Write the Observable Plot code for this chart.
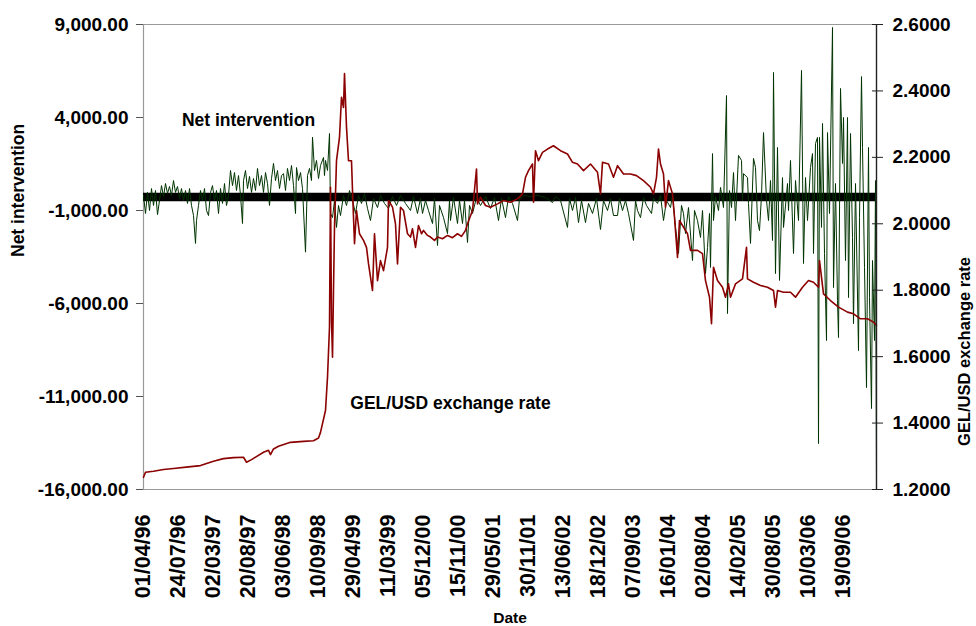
<!DOCTYPE html>
<html><head><meta charset="utf-8">
<script src="https://cdn.jsdelivr.net/npm/d3@7"></script>
<script src="https://cdn.jsdelivr.net/npm/@observablehq/plot@0.6"></script>
<style>body{margin:0;background:#fff}</style>
</head><body><div id="chart"></div>
<script>
const dateLabels = ["01/04/96","24/07/96","02/03/97","20/08/97","03/06/98","10/09/98","29/04/99","11/03/99","05/12/00","15/11/00","29/05/01","30/11/01","13/06/02","18/12/02","07/09/03","16/01/04","02/08/04","14/02/05","30/08/05","10/03/06","19/09/06"];
const labelStep = 35;   // observations between date labels
const nObs = 733;       // observation count on the category axis

const leftTicks = [-16000,-11000,-6000,-1000,4000,9000];
const rightTicks = [1.2,1.4,1.6,1.8,2.0,2.2,2.4,2.6];
const leftDomain = [-16000, 9000];
const rightDomain = [1.2, 2.6];

// [observation, net intervention]
const netIntervention = [[0,-190],[2,-1160],[4,-30],[6,-1000],[8,180],[10,-730],[12,75],[14,-1220],[16,-460],[18,340],[20,-250],[22,450],[24,-90],[26,290],[28,-190],[30,610],[32,-30],[34,290],[36,-350],[38,180],[40,-460],[42,75],[44,-620],[46,180],[48,-730],[50,-1270],[52,-2770],[53,-1540],[55,-730],[57,75],[59,-460],[61,180],[63,-1000],[65,-1270],[67,-30],[69,340],[71,-460],[73,75],[75,-1160],[77,180],[79,-620],[81,450],[83,-730],[85,-190],[87,1150],[89,340],[91,1040],[93,75],[95,880],[97,-190],[99,-1700],[100,610],[102,1150],[104,180],[106,830],[108,-30],[110,720],[112,75],[114,1260],[116,340],[118,880],[120,-30],[122,1040],[124,450],[126,-730],[128,720],[130,1530],[132,610],[134,1150],[136,180],[138,880],[140,980],[142,75],[144,1260],[146,610],[148,1420],[150,340],[152,-1160],[153,1310],[155,610],[157,1040],[159,180],[162,-3240],[164,880],[166,1260],[168,610],[169,2940],[171,1150],[173,1690],[175,720],[177,1420],[180,1850],[181,880],[182,1690],[184,1150],[186,3140],[187,-1160],[189,-1380],[191,-460],[193,-1910],[195,-730],[197,-1270],[200,-190],[203,-730],[206,75],[209,-460],[212,-1160],[215,-190],[218,-620],[221,-90],[224,-890],[227,-1540],[230,-350],[234,-840],[237,-190],[241,-620],[245,-890],[249,-250],[253,-730],[257,-190],[262,-620],[267,-1000],[270,-250],[274,-1160],[277,-350],[279,-1160],[282,-460],[285,-1000],[289,-1700],[291,-350],[294,-2880],[296,-730],[300,-1380],[304,-2240],[306,-460],[307,-1540],[310,-300],[314,-1700],[316,-460],[319,-1700],[321,-460],[324,-2720],[326,-730],[329,-1160],[333,-300],[337,-730],[342,-250],[347,-890],[351,-300],[355,-1540],[358,-350],[362,-1380],[365,-250],[369,-620],[374,-1540],[376,-350],[381,-190],[387,-250],[394,-190],[402,-300],[409,-570],[412,-250],[417,-460],[424,-1910],[426,-350],[429,-1000],[432,-300],[435,-1650],[438,-460],[442,-1650],[445,-620],[449,-1160],[453,-350],[457,-2020],[460,-460],[464,-1000],[467,-350],[470,-1270],[474,-1270],[476,-350],[479,-1000],[482,-460],[485,-1160],[490,-2610],[492,-460],[494,-1000],[497,-1380],[500,-300],[503,-730],[508,-1160],[510,-350],[514,-620],[517,-190],[520,-1540],[523,-460],[527,-840],[529,-190],[532,-1910],[535,-3310],[538,-730],[540,-1160],[542,-2240],[545,-840],[549,-3690],[551,-1000],[554,-1540],[557,-2450],[559,-1000],[562,-4390],[564,-2990],[566,-1160],[567,-4060],[569,2060],[570,-1540],[572,-250],[575,-1000],[577,240],[580,-840],[583,5180],[584,-6540],[586,75],[588,-840],[590,1040],[592,-1540],[595,1960],[598,1690],[599,-460],[600,980],[604,770],[605,-620],[607,-2770],[610,1800],[612,1310],[614,-1540],[616,-2080],[618,-190],[620,3190],[623,-460],[625,-1540],[627,610],[629,-2610],[630,6420],[632,-4390],[634,2390],[636,-4760],[639,770],[640,-1910],[644,450],[645,-1000],[647,1690],[650,-3310],[652,610],[655,-1540],[658,6530],[660,-3850],[662,770],[664,-1540],[667,1310],[669,2060],[670,-3310],[672,2600],[674,2930],[675,-13530],[676,2930],[678,-1910],[679,3680],[681,-3310],[683,-7990],[684,3190],[686,-1160],[689,8840],[690,-5140],[692,450],[694,-5840],[695,-7830],[697,5560],[699,1530],[700,4000],[702,-3690],[704,4000],[705,-5680],[707,3140],[709,-2450],[710,-7080],[712,450],[715,-8530],[716,-1380],[718,6200],[719,2390],[721,-4060],[723,-10520],[725,2390],[726,-5680],[728,-11650],[729,-3690],[731,-7990],[732,610],[733,-16000]];

// [observation, GEL/USD rate]
const exchangeRate = [[0,1.237],[2,1.252],[10,1.255],[20,1.26],[30,1.263],[45,1.268],[57,1.272],[70,1.285],[80,1.293],[90,1.296],[100,1.297],[103,1.282],[108,1.29],[120,1.312],[125,1.318],[127,1.305],[130,1.322],[135,1.33],[147,1.342],[160,1.345],[170,1.347],[175,1.355],[177,1.372],[182,1.438],[184,1.538],[186,1.689],[187,2.11],[188,1.709],[189,1.598],[190,1.8],[191,1.99],[193,2.19],[196,2.261],[198,2.381],[200,2.35],[201,2.452],[203,2.291],[205,2.19],[208,2.19],[209,2.1],[211,1.94],[213,2.04],[216,1.97],[220,1.95],[223,1.929],[225,1.88],[229,1.799],[231,1.97],[234,1.829],[237,1.889],[240,1.859],[244,1.929],[245,2.07],[249,2.05],[252,2.0],[254,1.879],[257,2.05],[260,2.04],[264,1.97],[267,1.96],[269,1.985],[272,1.929],[275,1.995],[278,1.97],[280,1.98],[284,1.965],[287,1.96],[291,1.95],[294,1.96],[299,1.955],[304,1.965],[309,1.958],[314,1.97],[318,1.962],[322,1.98],[324,2.0],[329,2.04],[333,2.165],[334,2.06],[337,2.08],[342,2.055],[347,2.05],[354,2.06],[360,2.07],[367,2.065],[374,2.075],[379,2.09],[382,2.14],[385,2.16],[389,2.18],[390,2.065],[392,2.22],[395,2.19],[399,2.215],[404,2.225],[410,2.235],[417,2.22],[424,2.21],[429,2.185],[434,2.18],[440,2.16],[447,2.18],[454,2.155],[457,2.09],[459,2.185],[465,2.18],[470,2.14],[474,2.175],[480,2.15],[487,2.15],[493,2.145],[500,2.13],[507,2.11],[510,2.09],[513,2.14],[515,2.225],[517,2.18],[520,2.15],[522,2.05],[525,2.13],[529,2.09],[531,2.02],[534,1.899],[536,2.01],[540,1.99],[544,1.97],[547,1.92],[554,1.92],[559,1.91],[562,1.829],[566,1.779],[568,1.699],[570,1.869],[574,1.829],[579,1.809],[582,1.779],[585,1.819],[587,1.779],[592,1.819],[599,1.834],[603,1.929],[604,1.834],[610,1.824],[617,1.814],[624,1.809],[630,1.799],[632,1.749],[634,1.799],[640,1.794],[647,1.794],[652,1.779],[659,1.809],[665,1.829],[670,1.824],[675,1.809],[676,1.889],[680,1.789],[687,1.769],[695,1.749],[704,1.734],[710,1.729],[717,1.714],[724,1.714],[730,1.704],[733,1.694]];

const toLeft = r => leftDomain[0] + (r - rightDomain[0]) / (rightDomain[1] - rightDomain[0]) * (leftDomain[1] - leftDomain[0]);
const fromLeft = v => rightDomain[0] + (v - leftDomain[0]) / (leftDomain[1] - leftDomain[0]) * (rightDomain[1] - rightDomain[0]);
const fmtLeft = d3.formatLocale({decimal: ".", thousands: ",", grouping: [3], currency: ["", ""], minus: "-"}).format(",.2f");
const dateTicks = dateLabels.map((d, i) => i * labelStep);

const chart = Plot.plot({
  width: 976, height: 626,
  marginLeft: 143, marginRight: 100, marginTop: 24, marginBottom: 137,
  x: {domain: [0, nObs], axis: null},
  y: {domain: leftDomain, axis: null},
  style: {fontFamily: "'Liberation Sans', Arial, sans-serif", fontWeight: "bold", color: "#000", background: "#fff"},
  marks: [
    Plot.ruleY([leftDomain[1]], {stroke: "#999", strokeWidth: 1.2}),
    Plot.ruleY([leftDomain[0]], {stroke: "#999", strokeWidth: 1.2}),
    Plot.ruleX([0], {stroke: "#999", strokeWidth: 1.2}),
    Plot.ruleY([0], {stroke: "#000", strokeWidth: 8.5, dy: 5}),
    Plot.line(netIntervention, {x: d => d[0], y: d => d[1], stroke: "#003300", strokeWidth: 1}),
    Plot.line(exchangeRate, {x: d => d[0], y: d => toLeft(d[1]), stroke: "#8b0000", strokeWidth: 1.6}),
    Plot.ruleX([nObs], {stroke: "#222", strokeWidth: 1.4}),
    Plot.axisY(leftTicks, {anchor: "left", tickSize: 7, tickPadding: 8, tickFormat: fmtLeft, fontSize: 19, label: null, stroke: "#555"}),
    Plot.axisY(rightTicks.map(toLeft), {anchor: "right", tickSize: 11, dx: -5, tickFormat: () => "", label: null, stroke: "#222"}),
    Plot.axisY(rightTicks.map(toLeft), {anchor: "right", tickSize: 0, tickPadding: 16, tickFormat: v => fromLeft(v).toFixed(4), fontSize: 19, label: null}),
    Plot.axisX(dateTicks, {anchor: "bottom", tickSize: 0, tickPadding: 25, tickRotate: -90, tickFormat: v => dateLabels[Math.round(v / labelStep)], fontSize: 21.5, label: null}),
    Plot.text(["Net intervention"], {x: 105, y: 3840, text: d => d, fontSize: 17.5, fontWeight: "bold"}),
    Plot.text(["GEL/USD exchange rate"], {x: 307, y: -11375, text: d => d, fontSize: 17.5, fontWeight: "bold"}),
    Plot.text(["Net intervention"], {frameAnchor: "left", dx: -125, rotate: -90, text: d => d, fontSize: 17.5, fontWeight: "bold"}),
    Plot.text(["GEL/USD exchange rate"], {frameAnchor: "right", dx: 88, rotate: -90, text: d => d, fontSize: 16.5, fontWeight: "bold"}),
    Plot.text(["Date"], {frameAnchor: "bottom", dy: 133, text: d => d, fontSize: 15.5, fontWeight: "bold"})
  ]
});
document.getElementById("chart").appendChild(chart);
</script>
</body></html>
